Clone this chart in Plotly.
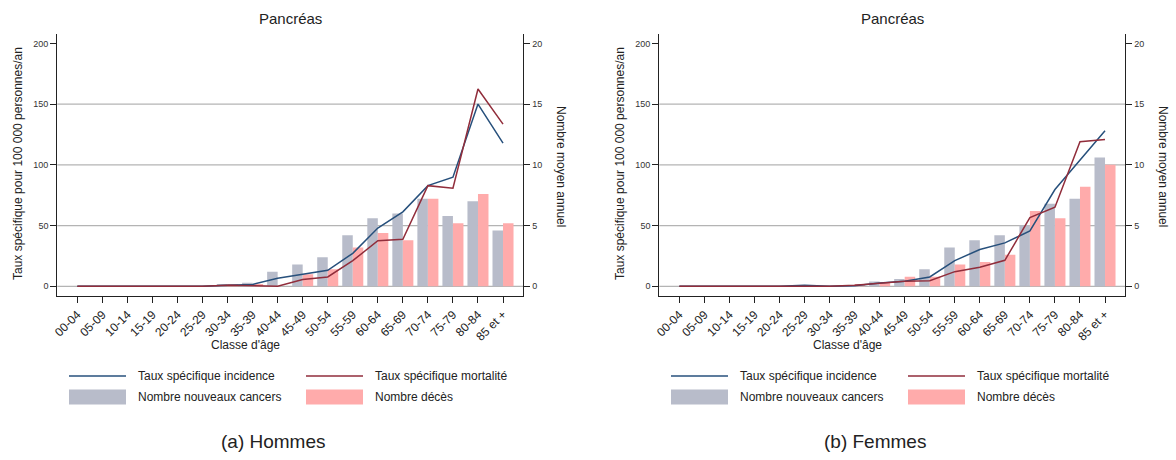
import plotly.graph_objects as go

# Age classes
categories = ["00-04", "05-09", "10-14", "15-19", "20-24", "25-29", "30-34", "35-39",
              "40-44", "45-49", "50-54", "55-59", "60-64", "65-69", "70-74", "75-79",
              "80-84", "85 et +"]

# Hommes: rates per 100 000 (left axis) and yearly counts (right axis)
h_incidence_rate = [0, 0, 0, 0, 0, 0, 0.8, 1.6, 6.6, 9.9, 13.2, 27.2, 48.0, 61.3, 82.9, 89.8, 150.0, 117.9]
h_mortality_rate = [0, 0, 0, 0, 0, 0, 1.0, 0.8, 0.0, 5.7, 7.7, 21.1, 37.6, 38.7, 82.9, 80.8, 162.4, 133.5]
h_new_cases = [0, 0, 0, 0, 0, 0, 0.2, 0.3, 1.2, 1.8, 2.4, 4.2, 5.6, 6.0, 7.2, 5.8, 7.0, 4.6]
h_deaths = [0, 0, 0, 0, 0, 0, 0.2, 0.2, 0.0, 1.0, 1.4, 3.2, 4.4, 3.8, 7.2, 5.2, 7.6, 5.2]

# Femmes
f_incidence_rate = [0, 0, 0, 0, 0, 0.8, 0, 0.5, 2.7, 4.1, 7.7, 21.2, 30.3, 35.8, 45.6, 79.7, 103.9, 128.1]
f_mortality_rate = [0, 0, 0, 0, 0, 0, 0, 0.8, 2.2, 4.1, 4.7, 12.1, 15.7, 21.4, 56.6, 65.1, 119.0, 120.9]
f_new_cases = [0, 0, 0, 0, 0, 0.1, 0, 0.1, 0.4, 0.6, 1.4, 3.2, 3.8, 4.2, 5.0, 6.8, 7.2, 10.6]
f_deaths = [0, 0, 0, 0, 0, 0, 0, 0.2, 0.3, 0.8, 0.8, 1.8, 2.0, 2.6, 6.2, 5.6, 8.2, 10.0]

rate_ticks = [0, 50, 100, 150, 200]
count_ticks = [0, 5, 10, 15, 20]
grid_values = [0, 50, 100, 150]

panels = [
    {"caption": "(a) Hommes", "inc": h_incidence_rate, "mort": h_mortality_rate,
     "cases": h_new_cases, "deaths": h_deaths},
    {"caption": "(b) Femmes", "inc": f_incidence_rate, "mort": f_mortality_rate,
     "cases": f_new_cases, "deaths": f_deaths},
]

W, H = 1176, 460
BLUE = "#27507c"
RED = "#912d3b"
GRAY_BAR = "#b8bcca"
PINK_BAR = "#ffabab"
FONT = "Arial, Liberation Sans, sans-serif"
TXT = "#222222"

x_domains = [[57.3 / W, 523.3 / W], [659.3 / W, 1125.3 / W]]
y_domain = [(H - 295.7) / H, (H - 34) / H]

fig = go.Figure()
layout = dict(
    width=W, height=H,
    margin=dict(l=0, r=0, t=0, b=0),
    paper_bgcolor="white", plot_bgcolor="rgba(0,0,0,0)",
    barmode="group", bargap=0.16, bargroupgap=0,
    showlegend=False,
    font=dict(family=FONT, color=TXT),
)

annotations = []
shapes = []

for i, p in enumerate(panels):
    xa = "x" if i == 0 else "x2"
    yc = "y" if i == 0 else "y3"    # counts (right side)
    yr = "y2" if i == 0 else "y4"   # rates (left side), drawn over the bars
    xkey = "xaxis" if i == 0 else "xaxis2"
    yckey = "yaxis" if i == 0 else "yaxis3"
    yrkey = "yaxis2" if i == 0 else "yaxis4"

    fig.add_trace(go.Bar(x=categories, y=p["cases"], name="Nombre nouveaux cancers",
                         marker=dict(color=GRAY_BAR, line=dict(width=0)),
                         xaxis=xa, yaxis=yc))
    fig.add_trace(go.Bar(x=categories, y=p["deaths"], name="Nombre décès",
                         marker=dict(color=PINK_BAR, line=dict(width=0)),
                         xaxis=xa, yaxis=yc))
    fig.add_trace(go.Scatter(x=categories, y=p["inc"], mode="lines",
                             name="Taux spécifique incidence",
                             line=dict(color=BLUE, width=1.5), xaxis=xa, yaxis=yr))
    fig.add_trace(go.Scatter(x=categories, y=p["mort"], mode="lines",
                             name="Taux spécifique mortalité",
                             line=dict(color=RED, width=1.5), xaxis=xa, yaxis=yr))

    layout[xkey] = dict(
        domain=x_domains[i], anchor=yc, range=[-0.8, 17.81],
        type="category", tickangle=-45, ticks="outside", ticklen=6,
        tickcolor="#222", tickwidth=1, showline=True, linecolor="#222", linewidth=1.2,
        showgrid=False, zeroline=False, automargin=False,
        tickfont=dict(size=12, color=TXT, family=FONT),
    )
    layout[yckey] = dict(
        domain=y_domain, anchor=xa, side="right", range=[-0.77, 20.77],
        tickvals=count_ticks, ticks="outside", ticklen=6, tickcolor="#222",
        showline=True, linecolor="#222", linewidth=1.2, showgrid=False,
        zeroline=False, automargin=False,
        tickfont=dict(size=9, color="#333", family=FONT),
    )
    layout[yrkey] = dict(
        overlaying=yc, anchor=xa, side="left", range=[-7.7, 207.7],
        tickvals=rate_ticks, ticks="outside", ticklen=6, tickcolor="#222",
        showline=True, linecolor="#222", linewidth=1.2, showgrid=False,
        zeroline=False, automargin=False,
        tickfont=dict(size=9, color="#333", family=FONT),
    )

    # horizontal reference lines on the rate scale
    for g in grid_values:
        shapes.append(dict(type="line", xref=f"{xa} domain", x0=0, x1=1,
                           yref=yr, y0=g, y1=g, layer="below",
                           line=dict(color="#b4b4b4", width=1.3)))

    x0, x1 = x_domains[i]
    cx = (x0 + x1) / 2
    off = 0 if i == 0 else 602  # horizontal offset of the second panel, px

    annotations.append(dict(text="Pancréas", x=cx, y=1 - 18 / H, xref="paper", yref="paper",
                            showarrow=False, xanchor="center", yanchor="middle",
                            font=dict(size=15, color=TXT)))
    annotations.append(dict(text="Classe d'âge", x=(245 + off) / W, y=1 - 345 / H,
                            xref="paper", yref="paper", showarrow=False,
                            xanchor="center", yanchor="middle", font=dict(size=12, color=TXT)))
    annotations.append(dict(text="Taux spécifique pour 100 000 personnes/an",
                            x=(18 + off) / W, y=1 - 164 / H, xref="paper", yref="paper",
                            showarrow=False, textangle=-90, xanchor="center", yanchor="middle",
                            font=dict(size=12, color=TXT)))
    annotations.append(dict(text="Nombre moyen annuel", x=(561 + off) / W, y=1 - 166 / H,
                            xref="paper", yref="paper", showarrow=False, textangle=90,
                            xanchor="center", yanchor="middle", font=dict(size=12, color=TXT)))
    annotations.append(dict(text=p["caption"], x=(273 + off) / W, y=1 - 441 / H,
                            xref="paper", yref="paper", showarrow=False,
                            xanchor="center", yanchor="middle", font=dict(size=19, color=TXT)))

    # legend keys
    legend_items = [
        ("line", BLUE, "Taux spécifique incidence", 69, 376),
        ("line", RED, "Taux spécifique mortalité", 306, 376),
        ("rect", GRAY_BAR, "Nombre nouveaux cancers", 69, 397),
        ("rect", PINK_BAR, "Nombre décès", 306, 397),
    ]
    for kind, color, label, lx, ly in legend_items:
        lx += off
        if kind == "line":
            shapes.append(dict(type="line", xref="paper", yref="paper",
                               x0=lx / W, x1=(lx + 57) / W, y0=1 - ly / H, y1=1 - ly / H,
                               line=dict(color=color, width=1.5)))
        else:
            shapes.append(dict(type="rect", xref="paper", yref="paper",
                               x0=lx / W, x1=(lx + 57) / W,
                               y0=1 - (ly + 7.5) / H, y1=1 - (ly - 7.5) / H,
                               fillcolor=color, line=dict(width=0)))
        annotations.append(dict(text=label, x=(lx + 67) / W, y=1 - ly / H,
                                xref="paper", yref="paper", showarrow=False,
                                xanchor="left", yanchor="middle",
                                font=dict(size=12, color=TXT)))

layout["annotations"] = annotations
layout["shapes"] = shapes
fig.update_layout(**layout)

fig.write_html("out.html")
